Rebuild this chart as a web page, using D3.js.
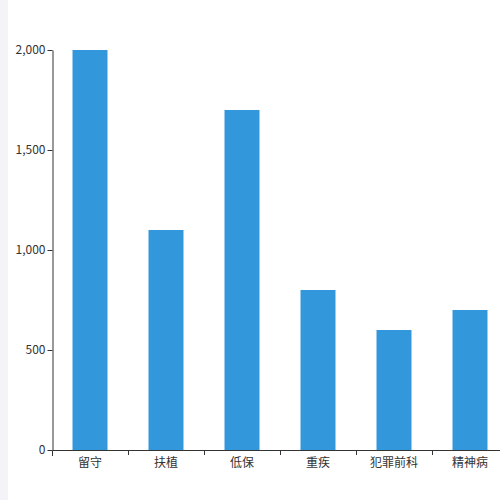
<!DOCTYPE html>
<html lang="zh">
<head>
  <meta charset="UTF-8">
  <title>Chart</title>
  <script src="https://cdn.jsdelivr.net/npm/d3@7"></script>
  <style>
    html, body { margin: 0; padding: 0; background: #fff; }
    .side { position: absolute; left: 0; top: 0; width: 8px; height: 500px; background: #f3f3f8; }
    .axis text { font: 12px "Noto Sans CJK SC", "Noto Sans", sans-serif; fill: #333; }
    .axis path, .axis line { stroke: #333; }
  </style>
</head>
<body>
  <div class="side"></div>
  <svg width="500" height="500" style="position:absolute;left:0;top:0"></svg>
  <script>
    var categories = ["留守", "扶植", "低保", "重疾", "犯罪前科", "精神病"];
    var values = [2000, 1100, 1700, 800, 600, 700];
    var yTicks = [0, 500, 1000, 1500, 2000];

    var svg = d3.select("svg"),
        margin = {top: 50, left: 52},
        height = 400;

    var g = svg.append("g")
        .attr("transform", "translate(" + margin.left + "," + margin.top + ")");

    var x = d3.scaleBand().domain(categories).range([0, 456]).padding(0);
    var y = d3.scaleLinear().domain([0, 2000]).range([height, 0]);
    var barW = 35;

    g.selectAll(".bar")
        .data(values)
        .enter().append("rect")
        .attr("class", "bar")
        .attr("x", function(d, i) { return x(categories[i]) + x.bandwidth() / 2 - barW / 2; })
        .attr("y", function(d) { return y(d); })
        .attr("width", barW)
        .attr("height", function(d) { return height - y(d); })
        .attr("fill", "#3398db");

    // x轴：刻度在分隔处
    var xAxis = g.append("g")
        .attr("class", "axis")
        .attr("transform", "translate(0," + height + ")");
    xAxis.append("path")
        .attr("d", "M0.5,6V0.5H456")
        .attr("fill", "none");
    xAxis.selectAll(".tk")
        .data(categories.slice(1))
        .enter().append("line")
        .attr("x1", function(d) { return Math.round(x(d)) + 0.5; })
        .attr("x2", function(d) { return Math.round(x(d)) + 0.5; })
        .attr("y1", 0).attr("y2", 5);
    xAxis.selectAll(".lb")
        .data(categories)
        .enter().append("text")
        .attr("x", function(d) { return x(d) + x.bandwidth() / 2; })
        .attr("y", 17)
        .attr("text-anchor", "middle")
        .text(function(d) { return d; });

    // y轴
    g.append("g")
        .attr("class", "axis")
        .attr("transform", "translate(0.5,0)")
        .call(d3.axisLeft(y).tickValues(yTicks).tickSize(5).tickSizeOuter(0).tickFormat(d3.format(",")))
        .call(function(s) { s.selectAll("text").attr("x", -7); });
  </script>
</body>
</html>
